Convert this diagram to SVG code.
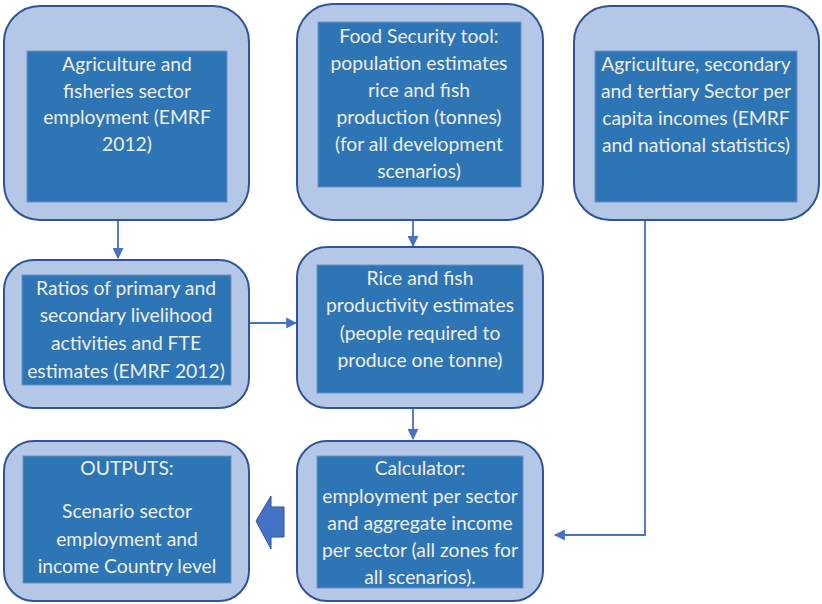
<svg xmlns="http://www.w3.org/2000/svg" width="822" height="604" viewBox="0 0 822 604">
  <defs>
    <style>
      .outer { fill: #B4C7E7; stroke: #2F5597; stroke-width: 2; }
      .inner { fill: #2E75B6; stroke: #6C93C2; stroke-width: 1; }
      .label { font-family: Lato, "Open Sans", sans-serif; font-size: 19.3px; fill: #EDEDED; text-anchor: middle; }
      .link { fill: none; stroke: #4472C4; stroke-width: 1.8; }
    </style>
    <marker id="arrow" viewBox="0 0 10 10" refX="9" refY="5" markerWidth="11" markerHeight="11" markerUnits="userSpaceOnUse" orient="auto">
      <path d="M0,0 L10,5 L0,10 z" fill="#4472C4"/>
    </marker>
  </defs>

  <!-- connectors -->
  <g id="connectors">
    <line class="link" x1="118" y1="221" x2="118" y2="258" marker-end="url(#arrow)"/>
    <line class="link" x1="413" y1="221" x2="413" y2="246" marker-end="url(#arrow)"/>
    <line class="link" x1="250" y1="323" x2="296" y2="323" marker-end="url(#arrow)"/>
    <line class="link" x1="413" y1="409" x2="413" y2="439" marker-end="url(#arrow)"/>
    <polyline class="link" points="645,221 645,535 555,535" marker-end="url(#arrow)"/>
    <!-- block arrow pointing to the outputs -->
    <path d="M284,507 L271,507 L271,496 L256,521 L271,549 L271,537 L284,537 z" fill="#4472C4" stroke="#2F5597" stroke-width="1"/>
  </g>

  <g id="node-employment">
    <rect class="outer" x="4" y="6" width="245" height="214" rx="36"/>
    <rect class="inner" x="27" y="51" width="200" height="151"/>
    <text class="label" x="127" y="71">Agriculture and</text>
    <text class="label" x="127" y="97.5">fisheries sector</text>
    <text class="label" x="127" y="124">employment (EMRF</text>
    <text class="label" x="127" y="151">2012)</text>
  </g>

  <g id="node-food-security">
    <rect class="outer" x="297" y="4" width="246" height="216" rx="36"/>
    <rect class="inner" x="318" y="22" width="203" height="165"/>
    <text class="label" x="419" y="43">Food Security tool:</text>
    <text class="label" x="419" y="70">population estimates</text>
    <text class="label" x="419" y="97">rice and fish</text>
    <text class="label" x="419" y="124">production (tonnes)</text>
    <text class="label" x="419" y="151">(for all development</text>
    <text class="label" x="419" y="178">scenarios)</text>
  </g>

  <g id="node-incomes">
    <rect class="outer" x="574" y="6" width="245" height="214" rx="36"/>
    <rect class="inner" x="595" y="51" width="202" height="151"/>
    <text class="label" x="696" y="71">Agriculture, secondary</text>
    <text class="label" x="696" y="98">and tertiary Sector per</text>
    <text class="label" x="696" y="125">capita incomes (EMRF</text>
    <text class="label" x="696" y="152">and national statistics)</text>
  </g>

  <g id="node-ratios">
    <rect class="outer" x="4" y="260" width="245" height="148" rx="30"/>
    <rect class="inner" x="22" y="275" width="209" height="110"/>
    <text class="label" x="126" y="295">Ratios of primary and</text>
    <text class="label" x="126" y="322">secondary livelihood</text>
    <text class="label" x="126" y="350">activities and FTE</text>
    <text class="label" x="126" y="378">estimates (EMRF 2012)</text>
  </g>

  <g id="node-productivity">
    <rect class="outer" x="297" y="247" width="246" height="161" rx="30"/>
    <rect class="inner" x="317" y="265" width="206" height="128"/>
    <text class="label" x="420" y="285">Rice and fish</text>
    <text class="label" x="420" y="312">productivity estimates</text>
    <text class="label" x="420" y="340">(people required to</text>
    <text class="label" x="420" y="367">produce one tonne)</text>
  </g>

  <g id="node-outputs">
    <rect class="outer" x="4" y="441" width="245" height="160" rx="30"/>
    <rect class="inner" x="23" y="456" width="208" height="127"/>
    <text class="label" x="127" y="475">OUTPUTS:</text>
    <text class="label" x="127" y="518">Scenario sector</text>
    <text class="label" x="127" y="546">employment and</text>
    <text class="label" x="127" y="573">income Country level</text>
  </g>

  <g id="node-calculator">
    <rect class="outer" x="297" y="441" width="246" height="160" rx="30"/>
    <rect class="inner" x="317" y="456" width="206" height="132"/>
    <text class="label" x="420" y="475">Calculator:</text>
    <text class="label" x="420" y="503">employment per sector</text>
    <text class="label" x="420" y="530">and aggregate income</text>
    <text class="label" x="420" y="557">per sector (all zones for</text>
    <text class="label" x="420" y="584">all scenarios).</text>
  </g>
</svg>
